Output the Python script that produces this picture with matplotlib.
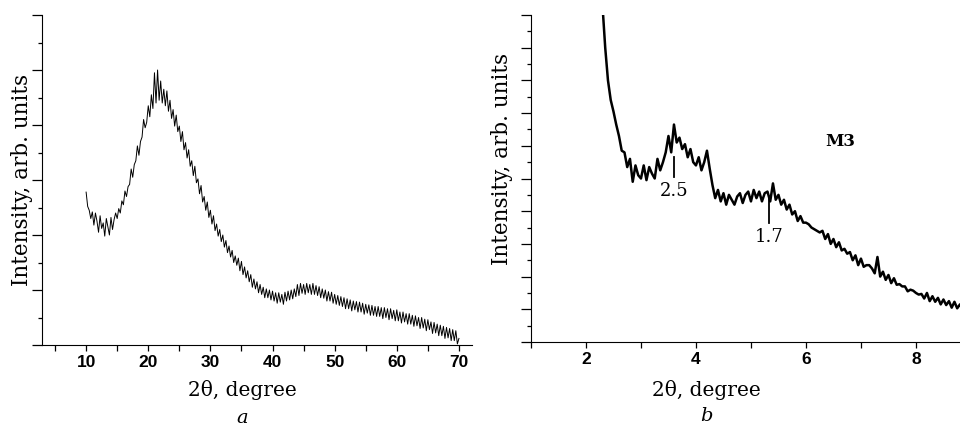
import numpy as np
import matplotlib
matplotlib.use("Agg")
import matplotlib.pyplot as plt
from matplotlib.ticker import MultipleLocator, NullFormatter

# ---- panel a: wide-angle scan, 10..70 deg, step 0.25 ----
a_start, a_step = 10.0, 0.25
intensity_a = [
    2.78, 2.52, 2.45, 2.30,  2.42, 2.18, 2.40, 2.25,  2.05, 2.35, 2.12, 2.22,
    1.98, 2.30, 2.15, 2.00,  2.32, 2.10, 2.28, 2.40,  2.30, 2.48, 2.40, 2.62,
    2.55, 2.80, 2.70, 2.88,  2.92, 3.20, 3.05, 3.28,  3.35, 3.62, 3.45, 3.70,
    3.78, 4.10, 3.95, 4.05,  4.35, 4.15, 4.55, 4.30,  4.95, 4.40, 5.00, 4.45,
    4.80, 4.40, 4.65, 4.35,  4.62, 4.25, 4.45, 4.12,  4.28, 3.98, 4.18, 3.88,
    3.98, 3.70, 3.88, 3.55,  3.68, 3.40, 3.55, 3.25,  3.35, 3.08, 3.25, 2.95,
    3.02, 2.75, 2.90, 2.60,  2.70, 2.45, 2.60, 2.32,  2.45, 2.20, 2.35, 2.08,
    2.20, 1.98, 2.10, 1.88,  2.00, 1.78, 1.90, 1.68,  1.80, 1.60, 1.72, 1.50,
    1.62, 1.45, 1.58, 1.35,  1.52, 1.28, 1.42, 1.22,  1.35, 1.15, 1.28, 1.05,
    1.20, 1.02, 1.15, 0.95,  1.10, 0.92, 1.05, 0.86,  1.02, 0.86, 1.00, 0.82,
    0.98, 0.80, 0.95, 0.76,  0.95, 0.78, 0.92, 0.74,  0.96, 0.80, 0.98, 0.82,
    1.00, 0.84, 1.02, 0.88,  1.10, 0.90, 1.12, 0.94,  1.10, 0.92, 1.12, 0.95,
    1.10, 0.92, 1.12, 0.92,  1.08, 0.90, 1.06, 0.86,  1.02, 0.85, 1.00, 0.80,
    0.97, 0.80, 0.96, 0.76,  0.92, 0.74, 0.90, 0.72,  0.88, 0.70, 0.86, 0.66,
    0.84, 0.66, 0.82, 0.62,  0.80, 0.64, 0.79, 0.60,  0.78, 0.60, 0.76, 0.56,
    0.74, 0.58, 0.73, 0.54,  0.72, 0.54, 0.70, 0.52,  0.70, 0.52, 0.68, 0.48,
    0.68, 0.50, 0.66, 0.46,  0.66, 0.48, 0.63, 0.44,  0.64, 0.44, 0.60, 0.40,
    0.60, 0.42, 0.57, 0.38,  0.57, 0.38, 0.54, 0.34,  0.53, 0.35, 0.50, 0.30,
    0.50, 0.31, 0.47, 0.26,  0.46, 0.28, 0.42, 0.21,  0.41, 0.22, 0.38, 0.17,
    0.36, 0.17, 0.34, 0.12,  0.32, 0.13, 0.30, 0.08,  0.28, 0.08, 0.26, 0.02,
    0.12,
]

# ---- panel b: small-angle scan, 2.3..8.85 deg, step 0.05 ----
b_start, b_step = 2.30, 0.05
intensity_b = [
    10.3, 9.0, 8.0, 7.4, 7.05, 6.65, 6.3, 5.85, 5.8, 5.35,
    5.6, 4.9, 5.4, 5.1, 5.0, 5.4, 4.95, 5.35, 5.15, 5.0,
    5.6, 5.25, 5.5, 5.8, 6.3, 5.8, 6.65, 6.1, 6.25, 5.9,
    6.05, 5.65, 5.9, 5.5, 5.4, 5.65, 5.25, 5.5, 5.85, 5.3,
    4.8, 4.4, 4.65, 4.3, 4.55, 4.2, 4.5, 4.35, 4.2, 4.45,
    4.55, 4.25, 4.5, 4.6, 4.3, 4.65, 4.4, 4.6, 4.3, 4.55,
    4.6, 4.3, 4.85, 4.35, 4.5, 4.2, 4.35, 4.05, 4.2, 3.9,
    4.0, 3.7, 3.85, 3.65, 3.65, 3.6, 3.5, 3.45, 3.4, 3.35,
    3.4, 3.15, 3.3, 3.0, 3.15, 2.9, 3.05, 2.8, 2.85, 2.7,
    2.75, 2.5, 2.65, 2.35, 2.55, 2.3, 2.35, 2.35, 2.25, 2.1,
    2.6, 2.0, 2.15, 1.9, 2.05, 1.8, 1.95, 1.75, 1.77, 1.7,
    1.7, 1.55, 1.6, 1.57, 1.5, 1.45, 1.47, 1.33, 1.5, 1.25,
    1.4, 1.23, 1.35, 1.15, 1.3, 1.13, 1.25, 1.05, 1.23, 1.03,
    1.15, 1.02,
]

# peak markers on panel b: position, marker top / bottom, d-spacing label
peak_pos = [3.6, 5.33]
peak_top = [5.67, 4.42]
peak_bottom = [5.06, 3.65]
peak_labels = ["2.5", "1.7"]
sample_name = "M3"

two_theta_a = a_start + a_step * np.arange(len(intensity_a))
two_theta_b = b_start + b_step * np.arange(len(intensity_b))

serif = "DejaVu Serif"
tick_font = {"family": "Liberation Sans", "weight": "bold", "size": 12.5}

fig = plt.figure(figsize=(9.6, 4.25), dpi=100)
ax_a = fig.add_axes([0.04375, 0.1882, 0.4479, 0.7765])
ax_b = fig.add_axes([0.5531, 0.1953, 0.4583, 0.7694])


def style_axis(ax):
    for side in ("top", "right"):
        ax.spines[side].set_visible(False)
    ax.tick_params(which="both", direction="out", width=0.9)
    ax.tick_params(axis="y", which="major", length=7)
    ax.tick_params(axis="y", which="minor", length=3)
    ax.tick_params(axis="x", which="both", length=4)
    ax.yaxis.set_major_formatter(NullFormatter())
    ax.set_ylabel("Intensity, arb. units", family=serif, fontsize=15.5)
    ax.set_xlabel("2θ, degree", family=serif, fontsize=14.5)


# panel a
ax_a.plot(two_theta_a, intensity_a, color="black", lw=0.7)
ax_a.set_xlim(2.9, 72.1)
ax_a.set_ylim(0, 6)
ax_a.set_xticks(range(10, 71, 10))
ax_a.xaxis.set_minor_locator(MultipleLocator(5))
ax_a.yaxis.set_major_locator(MultipleLocator(1))
ax_a.yaxis.set_minor_locator(MultipleLocator(0.5))
style_axis(ax_a)
ax_a.set_xticklabels([str(v) for v in range(10, 71, 10)], **tick_font)
ax_a.yaxis.set_label_coords(-0.02, 0.5)
ax_a.xaxis.set_label_coords(0.465, -0.105)
ax_a.text(0.465, -0.22, "a", transform=ax_a.transAxes, ha="center",
          va="center", family=serif, style="italic", fontsize=14)

# panel b
ax_b.plot(two_theta_b, intensity_b, color="black", lw=1.8)
ax_b.set_xlim(1, 9)
ax_b.set_ylim(0, 10)
ax_b.set_xticks([2, 4, 6, 8])
ax_b.xaxis.set_minor_locator(MultipleLocator(1))
ax_b.yaxis.set_major_locator(MultipleLocator(1))
ax_b.yaxis.set_minor_locator(MultipleLocator(0.5))
style_axis(ax_b)
ax_b.set_xticklabels(["2", "4", "6", "8"], **tick_font)
ax_b.yaxis.set_label_coords(-0.04, 0.56)
ax_b.xaxis.set_label_coords(0.398, -0.115)
for x, top, bot, lab in zip(peak_pos, peak_top, peak_bottom, peak_labels):
    ax_b.plot([x, x], [bot, top], color="black", lw=1.3)
    ax_b.text(x, bot - 0.45, lab, ha="center", va="center",
              family=serif, fontsize=13)
ax_b.text(6.62, 6.13, sample_name, ha="center", va="center",
          family=serif, weight="bold", fontsize=12)
ax_b.text(0.398, -0.225, "b", transform=ax_b.transAxes, ha="center",
          va="center", family=serif, style="italic", fontsize=14)

fig.savefig("out.png", dpi=100)
